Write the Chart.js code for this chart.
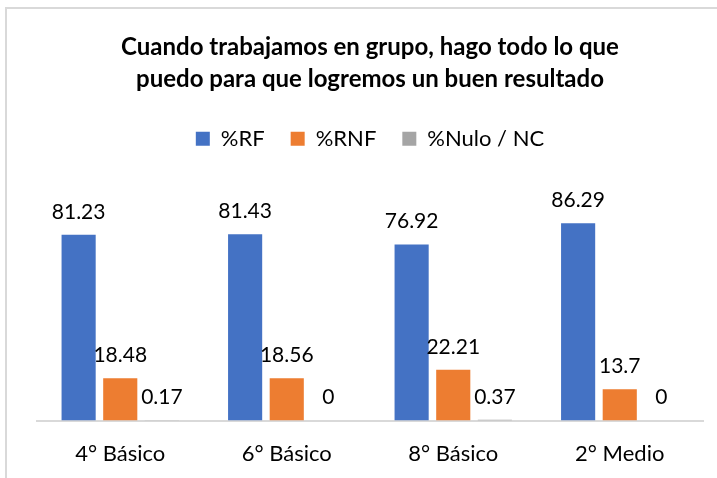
<!DOCTYPE html>
<html>
<head>
<meta charset="utf-8">
<script src="https://cdn.jsdelivr.net/npm/chart.js@4"></script>
<style>
  html, body { margin: 0; padding: 0; background: #ffffff; }
  #wrap { position: relative; width: 717px; height: 478px; overflow: hidden; }
  #frame { position: absolute; left: 5px; top: 7px; width: 760px; height: 520px; border: 2px solid #d9d9d9; }
  #chart { position: absolute; left: 0; top: 0; }
</style>
</head>
<body>
<div id="wrap">
  <div id="frame"></div>
  <canvas id="chart" width="717" height="478"></canvas>
</div>
<script>
  var CATEGORIES = ["4° Básico", "6° Básico", "8° Básico", "2° Medio"];
  var RF = [81.23, 81.43, 76.92, 86.29];
  var RNF = [18.48, 18.56, 22.21, 13.7];
  var NULO = [0.17, 0, 0.37, 0];
  var SERIES_NAMES = ["%RF", "%RNF", "%Nulo / NC"];
  var COLORS = ["#4472c4", "#ed7d31", "#a5a5a5"];
  var TITLE = ["Cuando trabajamos en grupo, hago todo lo que", "puedo para que logremos un buen resultado"];

  var FONT = "Lato";

  // value labels above each bar
  var valueLabels = {
    id: "valueLabels",
    afterDatasetsDraw: function (chart) {
      var ctx = chart.ctx;
      ctx.save();
      ctx.font = "21px " + FONT;
      ctx.fillStyle = "#000000";
      ctx.textAlign = "center";
      ctx.textBaseline = "middle";
      chart.data.datasets.forEach(function (ds, i) {
        var meta = chart.getDatasetMeta(i);
        meta.data.forEach(function (bar, j) {
          ctx.fillText(String(ds.data[j]), bar.x, bar.y - 23);
        });
      });
      ctx.restore();
    }
  };

  // extra room under the legend
  var legendSpace = {
    id: "legendSpace",
    beforeInit: function (chart) {
      var fit = chart.legend.fit;
      chart.legend.fit = function () {
        fit.bind(chart.legend)();
        this.height += 32;
      };
    }
  };

  new Chart(document.getElementById("chart"), {
    type: "bar",
    data: {
      labels: CATEGORIES,
      datasets: [
        { label: SERIES_NAMES[0], data: RF, backgroundColor: COLORS[0], borderWidth: 0 },
        { label: SERIES_NAMES[1], data: RNF, backgroundColor: COLORS[1], borderWidth: 0 },
        { label: SERIES_NAMES[2], data: NULO, backgroundColor: COLORS[2], borderWidth: 0 }
      ]
    },
    options: {
      responsive: false,
      animation: false,
      categoryPercentage: 0.75,
      barPercentage: 0.82,
      layout: { padding: { left: 37, right: 14, top: 0, bottom: -1 } },
      plugins: {
        title: {
          display: true,
          text: TITLE,
          color: "#000000",
          font: { family: FONT, size: 24, weight: "bold", lineHeight: 1.35 },
          padding: { top: 31, bottom: 6 }
        },
        legend: {
          position: "top",
          labels: {
            color: "#000000",
            font: { family: FONT, size: 22 },
            boxWidth: 14,
            boxHeight: 14,
            padding: 26
          }
        },
        tooltip: { enabled: false }
      },
      scales: {
        x: {
          grid: { display: false },
          border: { display: true, color: "#d9d9d9", width: 2 },
          ticks: { color: "#000000", font: { family: FONT, size: 22 }, padding: 12 }
        },
        y: {
          display: false,
          min: 0,
          max: 100
        }
      }
    },
    plugins: [valueLabels, legendSpace]
  });
</script>
</body>
</html>
